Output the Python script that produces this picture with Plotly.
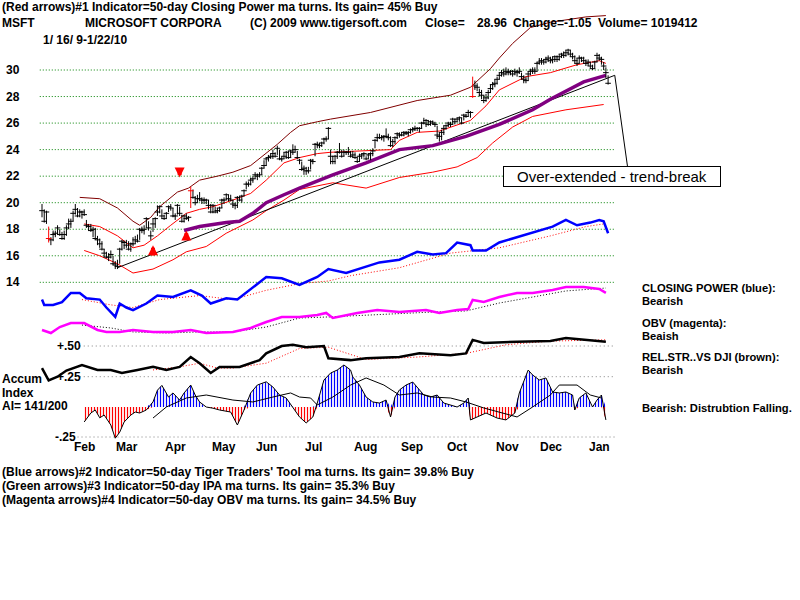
import numpy as np
import pandas as pd
import plotly.graph_objects as go

# ---------------- trading calendar ----------------
holidays = ['2009-01-19', '2009-02-16', '2009-04-10', '2009-05-25', '2009-07-03',
            '2009-09-07', '2009-11-26', '2009-12-25', '2010-01-01', '2010-01-18']
dates = pd.bdate_range('2009-01-16', '2010-01-22')
dates = dates[~dates.isin(pd.to_datetime(holidays))]
day = np.arange(len(dates))

# ---------------- price data (daily) ----------------
closes = [19.4, 18.6, 19.3, 17.3, 17.2, 17.6, 17.7, 18.1, 17.6, 17.3,
          17.6, 18.1, 18.4, 18.6, 19.2, 19.5, 19.0, 19.3, 19.3, 19.1, 18.3, 18.2, 17.9, 18.0, 17.3, 17.2, 16.9, 16.5, 16.2,
          15.9, 15.9, 16.1, 15.4, 15.3, 15.2, 16.5, 17.1, 17.0, 16.8, 16.5, 16.9, 16.9, 17.2, 17.1, 18.0, 17.9, 18.0, 18.8, 18.1, 17.5, 18.4,
          18.8, 19.3, 19.7, 19.0, 18.8, 19.2, 19.7, 19.6, 19.0, 19.0, 19.8, 19.2, 18.6, 19.0, 18.8, 18.9, 20.9, 20.4, 20.0, 20.3, 20.3,
          20.2, 20.2, 20.2, 19.8, 19.3, 19.8, 19.3, 19.4, 19.6, 20.2, 20.2, 20.6, 20.3, 20.2, 19.9, 19.8, 20.4, 20.2, 20.5, 20.9,
          21.4, 21.4, 21.7, 21.8, 22.1, 22.0, 22.1, 22.6, 22.8, 23.3, 23.4, 23.5, 23.7, 23.5, 24.1, 23.3, 23.3, 23.5, 23.8, 23.4, 23.9, 23.8,
          24.0, 23.4, 23.2, 22.5, 22.6, 22.4, 22.4, 23.2, 23.1, 24.4, 24.4, 24.3, 24.5, 24.8, 24.8, 25.6, 23.5, 23.1, 23.5, 23.8, 23.8, 23.5,
          23.8, 23.8, 23.8, 23.5, 23.6, 23.4, 23.1, 23.5, 23.6, 23.7, 23.3, 23.6, 23.7, 23.9, 24.7, 24.9, 24.9, 24.9, 25.0, 25.0, 24.9,
          24.3, 24.6, 24.9, 25.2, 25.1, 25.1, 25.3, 25.2, 25.3, 25.5, 25.5, 25.6, 25.6, 25.6, 26.0, 26.0, 26.2, 25.9, 26.1, 26.0, 25.9,
          25.1, 25.0, 25.3, 25.6, 25.8, 26.0, 25.9, 26.3, 26.1, 26.3, 26.4, 26.0, 26.6, 26.5, 26.8, 26.8, 28.0, 28.8, 28.7, 28.3, 28.1, 27.7,
          27.9, 28.3, 28.6, 28.9, 29.0, 29.3, 29.6, 29.8, 29.7, 29.9, 29.8, 29.9, 29.7, 29.9, 29.8, 29.9, 29.5, 29.3, 29.2, 29.7,
          29.9, 30.0, 29.9, 30.5, 30.6, 30.7, 30.6, 30.8, 30.9, 30.7, 30.8, 31.0, 30.8, 31.0, 31.2, 31.1, 31.3, 31.5, 31.2, 31.0, 30.7, 30.5,
          30.9, 30.9, 30.7, 30.5, 30.6, 30.3, 30.1, 30.6, 31.1, 30.9, 30.8, 30.3, 29.8, 29.0]
highs = [19.9, 19.5, 19.4, 18.2, 17.4, 17.9, 17.9, 18.3, 18.0, 17.8,
         17.9, 18.3, 18.8, 18.8, 19.4, 19.9, 19.6, 19.5, 19.4, 19.5, 18.7, 18.4, 18.4, 18.2, 18.1, 17.5, 17.3, 17.1, 16.5,
         16.3, 16.2, 16.4, 16.0, 15.6, 15.7, 16.6, 17.2, 17.1, 17.2, 17.1, 17.0, 17.4, 17.5, 17.6, 18.1, 18.2, 18.3, 18.9, 18.6, 17.9, 18.8,
         18.9, 19.8, 19.8, 19.5, 19.1, 19.3, 19.8, 19.9, 19.6, 19.2, 19.9, 19.7, 19.1, 19.1, 19.2, 19.0, 21.2, 21.0, 20.5, 20.6, 20.8,
         20.4, 20.4, 20.3, 20.2, 19.9, 19.9, 19.7, 19.6, 19.7, 20.3, 20.4, 20.7, 20.6, 20.6, 20.2, 20.0, 20.5, 20.5, 20.6, 21.0,
         21.6, 21.6, 21.9, 22.0, 22.3, 22.2, 22.3, 22.7, 23.2, 23.4, 23.6, 23.7, 24.0, 23.8, 24.3, 24.0, 23.5, 23.8, 23.9, 23.9, 24.0, 24.4,
         24.3, 23.9, 23.3, 23.1, 22.8, 22.7, 22.7, 23.3, 23.3, 24.5, 24.6, 24.5, 24.6, 24.9, 25.0, 25.7, 24.0, 23.5, 23.6, 23.9, 24.5, 24.0,
         24.0, 23.9, 24.2, 23.9, 23.9, 23.8, 23.4, 23.7, 23.7, 23.8, 23.5, 23.7, 23.8, 24.1, 24.8, 25.2, 25.2, 25.1, 25.1, 25.6, 25.2,
         25.0, 24.8, 25.0, 25.3, 25.3, 25.3, 25.4, 25.4, 25.4, 25.6, 25.7, 25.8, 25.7, 25.7, 26.1, 26.4, 26.3, 26.2, 26.2, 26.2, 26.1,
         25.8, 25.3, 25.5, 25.8, 25.9, 26.1, 26.1, 26.4, 26.3, 26.4, 26.5, 26.4, 26.7, 26.7, 27.0, 26.9, 29.5, 29.2, 29.0, 28.6, 28.5, 28.1,
         28.2, 28.5, 28.9, 29.1, 29.3, 29.5, 29.8, 30.0, 30.1, 30.2, 30.1, 30.0, 30.0, 30.1, 30.0, 30.2, 29.8, 29.6, 29.5, 29.9,
         30.1, 30.2, 30.2, 30.6, 30.9, 30.9, 30.8, 31.0, 31.1, 31.0, 31.0, 31.1, 31.1, 31.2, 31.3, 31.4, 31.5, 31.6, 31.5, 31.3, 31.1, 30.9,
         31.1, 31.0, 31.0, 30.8, 30.8, 30.6, 30.4, 30.7, 31.3, 31.2, 31.0, 30.6, 30.2, 29.6]
lows = [18.9, 18.5, 18.4, 17.0, 16.8, 17.1, 17.4, 17.6, 17.5, 17.2,
        17.2, 17.5, 18.0, 18.1, 18.6, 19.1, 18.9, 18.9, 18.8, 19.0, 18.1, 17.9, 17.8, 17.4, 17.2, 16.8, 16.6, 16.4, 15.9,
        15.8, 15.6, 15.8, 15.3, 15.0, 15.0, 15.4, 16.4, 16.5, 16.6, 16.4, 16.3, 16.7, 16.9, 17.0, 17.2, 17.7, 17.6, 18.1, 17.9, 17.2, 17.8,
        18.1, 19.0, 19.2, 18.8, 18.7, 18.8, 19.3, 19.4, 18.9, 18.7, 19.1, 19.0, 18.5, 18.5, 18.7, 18.6, 19.6, 20.3, 19.8, 20.0, 20.1,
        19.9, 19.9, 19.9, 19.5, 19.2, 19.2, 19.2, 19.2, 19.3, 19.6, 19.9, 20.2, 20.1, 20.1, 19.6, 19.5, 19.6, 20.1, 20.0, 20.5,
        21.0, 21.2, 21.3, 21.5, 21.8, 21.7, 21.9, 22.1, 22.6, 22.8, 23.1, 23.3, 23.3, 23.4, 23.6, 23.2, 23.1, 23.3, 23.3, 23.3, 23.4, 23.6,
        23.8, 23.3, 22.9, 22.4, 22.1, 22.1, 22.2, 22.5, 22.9, 23.5, 24.1, 24.1, 24.2, 24.4, 24.6, 24.8, 22.9, 22.9, 22.9, 23.3, 23.7, 23.4,
        23.5, 23.6, 23.6, 23.4, 23.4, 23.3, 23.0, 23.1, 23.3, 23.4, 23.2, 23.3, 23.2, 23.5, 24.1, 24.6, 24.8, 24.7, 24.6, 24.9, 24.7,
        24.2, 24.2, 24.4, 24.8, 24.9, 25.0, 25.0, 25.1, 25.0, 25.2, 25.3, 25.4, 25.4, 25.3, 25.6, 25.9, 25.7, 25.8, 25.8, 25.9, 25.7,
        24.8, 24.6, 24.7, 25.1, 25.5, 25.7, 25.7, 25.9, 25.9, 26.1, 26.1, 25.9, 26.2, 26.4, 26.5, 26.4, 27.9, 28.5, 28.4, 28.0, 27.8, 27.5,
        27.6, 27.8, 28.3, 28.5, 28.7, 28.9, 29.3, 29.5, 29.5, 29.6, 29.6, 29.6, 29.5, 29.6, 29.5, 29.7, 29.3, 29.0, 29.0, 29.2,
        29.6, 29.7, 29.7, 29.9, 30.4, 30.4, 30.4, 30.5, 30.6, 30.5, 30.5, 30.6, 30.6, 30.7, 30.9, 30.9, 31.0, 31.1, 31.0, 30.8, 30.5, 30.3,
        30.5, 30.6, 30.5, 30.3, 30.3, 30.1, 30.0, 30.1, 30.6, 30.7, 30.4, 30.0, 29.4, 28.9]
red_bar_days = [3, 67, 194]

# bands / averages on price scale (day index, value)
ub_days = [17, 26, 34, 41, 44, 49, 53, 61, 66, 71, 79, 86, 94, 101, 106, 112, 116, 124, 130, 148, 157, 169, 184, 193, 202, 206, 212, 220, 229, 245, 254]
ub_vals = [20.4, 20.3, 19.6, 18.6, 18.3, 18.9, 19.7, 20.8, 21.1, 21.7, 22.0, 22.3, 22.8, 23.7, 24.4, 25.3, 25.8, 26.1, 26.3, 26.8, 27.2, 27.7, 28.1, 28.7, 30.1, 30.9, 32.0, 33.2, 33.6, 34.0, 34.1]
ma_days = [19, 26, 34, 41, 46, 52, 58, 65, 71, 77, 86, 94, 101, 109, 116, 124, 130, 143, 157, 161, 169, 179, 193, 200, 206, 218, 229, 241, 251, 254]
ma_vals = [18.4, 18.2, 17.5, 16.6, 16.8, 17.5, 18.3, 19.2, 19.5, 19.7, 20.2, 20.7, 21.7, 23.0, 23.4, 23.7, 23.8, 23.9, 24.0, 24.7, 25.3, 25.4, 26.2, 27.3, 28.5, 29.5, 29.8, 30.4, 30.7, 30.5]
lb_days = [19, 26, 34, 41, 50, 59, 65, 74, 83, 89, 95, 101, 109, 116, 131, 146, 161, 176, 187, 196, 203, 212, 221, 236, 253]
lb_vals = [16.4, 16.0, 15.4, 14.7, 15.0, 15.7, 16.3, 16.7, 17.7, 18.2, 18.7, 19.4, 20.2, 21.0, 21.5, 21.1, 21.9, 22.3, 22.7, 23.4, 24.5, 25.7, 26.5, 27.0, 27.4]
purple_days = [64, 71, 83, 89, 95, 101, 109, 116, 131, 146, 161, 176, 191, 206, 221, 229, 244, 254]
purple_vals = [17.9, 18.2, 18.5, 18.6, 19.2, 20.0, 20.6, 21.1, 22.1, 23.0, 24.0, 24.3, 25.0, 25.9, 27.0, 27.8, 29.1, 29.6]
trend_days = [34, 258]
trend_vals = [15.1, 29.6]

# closing power (blue) and its MA, drawn in chart units
cp_days = [0, 1, 5, 9, 13, 17, 20, 26, 29, 33, 35, 38, 41, 47, 52, 59, 67, 72, 76, 83, 88, 95, 101, 108, 116, 124, 129, 137, 146, 152, 161, 169, 176, 182, 187, 193, 194, 200, 206, 214, 221, 230, 236, 241, 247, 251, 253, 255]
cp_vals = [12.7, 12.3, 12.3, 12.5, 13.2, 13.2, 12.8, 12.7, 12.1, 11.4, 12.4, 12.1, 11.9, 12.4, 13.0, 12.9, 13.4, 13.0, 12.4, 12.8, 12.7, 13.6, 14.4, 14.3, 13.8, 14.4, 15.0, 14.7, 15.2, 15.5, 15.7, 16.3, 16.1, 16.2, 17.0, 16.8, 16.4, 16.4, 17.0, 17.4, 17.8, 18.2, 18.7, 18.3, 18.5, 18.7, 18.6, 17.7]
cpma_days = [18, 31, 41, 53, 71, 86, 101, 116, 129, 139, 161, 184, 206, 229, 245, 253]
cpma_vals = [12.7, 12.3, 12.1, 12.7, 13.0, 12.7, 13.4, 13.9, 14.1, 14.5, 15.1, 16.2, 16.6, 17.5, 18.2, 18.4]

# OBV (magenta) and its MA
obv_days = [0, 4, 8, 13, 19, 25, 29, 35, 41, 50, 59, 67, 74, 86, 94, 101, 108, 116, 124, 128, 131, 142, 151, 161, 173, 179, 187, 192, 194, 199, 206, 214, 221, 230, 236, 244, 251, 254]
obv_vals = [10.41, 10.18, 10.63, 10.93, 10.93, 10.41, 10.26, 10.26, 10.41, 10.26, 10.26, 10.41, 10.18, 10.26, 10.56, 11.01, 11.39, 11.39, 11.54, 11.69, 11.31, 11.69, 11.91, 11.76, 11.91, 11.69, 11.91, 11.99, 12.67, 12.52, 12.89, 13.2, 13.2, 13.42, 13.65, 13.65, 13.5, 13.2]
obvma_days = [18, 31, 41, 56, 71, 86, 101, 116, 129, 146, 176, 191, 206, 221, 236, 254]
obvma_vals = [10.78, 10.56, 10.26, 10.18, 10.26, 10.26, 10.63, 11.31, 11.39, 11.54, 11.76, 11.84, 12.44, 12.89, 13.35, 13.57]

# relative strength vs DJI and its MA
rs_days = [0, 3, 7, 11, 18, 25, 31, 36, 43, 50, 56, 62, 67, 71, 76, 80, 89, 98, 101, 108, 113, 119, 127, 129, 139, 146, 161, 170, 184, 191, 194, 199, 214, 229, 236, 244, 254]
rs_vals = [0.32, 0.22, 0.25, 0.30, 0.345, 0.305, 0.305, 0.28, 0.305, 0.33, 0.305, 0.33, 0.41, 0.36, 0.28, 0.33, 0.33, 0.385, 0.44, 0.50, 0.51, 0.49, 0.50, 0.40, 0.385, 0.40, 0.41, 0.44, 0.425, 0.44, 0.55, 0.525, 0.535, 0.54, 0.565, 0.55, 0.535]
rsma_days = [50, 62, 71, 79, 86, 101, 116, 129, 146, 169, 191, 209, 229, 254]
rsma_vals = [0.305, 0.33, 0.36, 0.32, 0.32, 0.36, 0.48, 0.49, 0.39, 0.41, 0.44, 0.51, 0.54, 0.55]
rs_levels = [0.50, 0.25]
rs_level_text = ['+.50', '+.25']

# accumulation index and its MA
ai_days = [19, 22, 24, 26, 28, 31, 33, 35, 37, 40, 42, 44, 47, 50, 52, 54, 57, 59, 62, 64, 67, 69, 71, 74, 77, 80, 85, 88, 91, 94, 97, 100, 101, 104, 107, 110, 113, 116, 119, 122, 124, 127, 130, 133, 136, 139, 140, 143, 146, 149, 152, 155, 157, 159, 161, 164, 167, 169, 172, 175, 178, 181, 184, 187, 190, 192, 193, 196, 200, 205, 209, 213, 215, 219, 221, 224, 227, 230, 233, 236, 239, 240, 242, 245, 248, 250, 252, 254]
ai_vals = [-0.125, -0.05, -0.025, -0.09, -0.067, -0.15, -0.26, -0.21, -0.125, -0.067, -0.042, -0.05, -0.025, 0.042, 0.14, 0.18, 0.083, 0.117, 0.058, 0.117, 0.183, 0.10, 0.042, 0.0, -0.01, -0.025, -0.042, -0.15, -0.025, 0.117, 0.183, 0.20, 0.21, 0.167, 0.10, 0.075, 0.0, -0.083, -0.133, -0.083, 0.033, 0.225, 0.283, 0.308, 0.35, 0.308, 0.25, 0.183, 0.083, 0.042, 0.033, 0.058, -0.083, 0.083, 0.142, 0.183, 0.208, 0.167, 0.10, 0.083, 0.10, 0.033, 0.017, 0.0, 0.033, 0.075, -0.108, -0.083, -0.05, -0.092, -0.108, -0.05, 0.117, 0.308, 0.267, 0.225, 0.242, 0.125, 0.117, 0.125, 0.10, -0.025, 0.075, 0.117, 0.0, 0.058, 0.10, -0.108]
aima_days = [50, 56, 65, 74, 86, 95, 104, 112, 116, 121, 124, 131, 139, 146, 154, 161, 169, 176, 184, 191, 199, 206, 214, 221, 229, 233, 241, 247, 252]
aima_vals = [-0.092, 0.0, 0.075, 0.10, 0.058, 0.042, 0.083, 0.117, 0.083, 0.075, 0.017, 0.083, 0.183, 0.242, 0.183, 0.10, 0.117, 0.083, 0.075, 0.042, -0.008, -0.042, -0.083, 0.0, 0.10, 0.183, 0.183, 0.10, 0.075]
ai_levels = [-0.25]
ai_level_text = ['-.25']

# signal arrows (day, tail, head)
arrow_days = [62, 50, 65]
arrow_tail = [22.7, 15.9, 17.1]
arrow_head = [21.9, 16.8, 17.9]

# axis labels
price_ticks = [30, 28, 26, 24, 22, 20, 18, 16, 14]
month_labels = ['Feb', 'Mar', 'Apr', 'May', 'Jun', 'Jul', 'Aug', 'Sep', 'Oct', 'Nov', 'Dec', 'Jan']

# ---------------- geometry (pixel calibration) ----------------
W, H = 800, 600
X0, PXD = 42.0, 2.22            # pixel of day 0, pixels per day
P_REF, P_PX, P_SCALE = 30.0, 70.0, 13.27   # price 30 at y=70, px per $
RS_REF, RS_PX, RS_SCALE = 0.5, 346.0, 122.8
AI_PX, AI_SCALE = 407.0, 120.0
FONT = "Liberation Sans, Arial, sans-serif"
FS = 12
FS_RIGHT = 11.2

x_range = [-X0 / PXD, (W - X0) / PXD]
y_range = [P_REF - (H - P_PX) / P_SCALE, P_REF + P_PX / P_SCALE]
y2_range = [RS_REF - (H - RS_PX) / RS_SCALE, RS_REF + RS_PX / RS_SCALE]
y3_range = [-(H - AI_PX) / AI_SCALE, AI_PX / AI_SCALE]

fig = go.Figure()

# gridlines
for v in price_ticks:
    fig.add_shape(type='line', xref='x', yref='y', x0=-1, x1=258, y0=v, y1=v, layer='below',
                  line=dict(color='#008000', width=1, dash='1px,2px'))
for v in rs_levels:
    fig.add_shape(type='line', xref='x', yref='y2', x0=17, x1=258, y0=v, y1=v, layer='below',
                  line=dict(color='#808080', width=1, dash='1px,3px'))
for v in ai_levels:
    fig.add_shape(type='line', xref='x', yref='y3', x0=16, x1=258, y0=v, y1=v, layer='below',
                  line=dict(color='#808080', width=1, dash='1px,3px'))

def line(x, y, color, width=1, dash=None, yaxis='y'):
    fig.add_trace(go.Scatter(x=x, y=y, mode='lines', yaxis=yaxis, hoverinfo='skip',
                             line=dict(color=color, width=width, dash=dash)))

# price panel
line(ub_days, ub_vals, '#800000', 1)
line(lb_days, lb_vals, '#FF0000', 1)
line(ma_days, ma_vals, '#FF0000', 1)
line(trend_days, trend_vals, '#000000', 1)
line(purple_days, purple_vals, '#800080', 3.5)

c = np.array(closes); h = np.array(highs); l = np.array(lows)
is_red = np.isin(day, red_bar_days)
for mask, col in [(~is_red, 'black'), (is_red, 'red')]:
    fig.add_trace(go.Scatter(
        x=day[mask], y=c[mask], mode='markers', hoverinfo='skip',
        marker=dict(symbol='line-ew', size=4, color=col, line=dict(width=1, color=col)),
        error_y=dict(type='data', symmetric=False, array=np.clip(h[mask] - c[mask], 0, None),
                     arrayminus=np.clip(c[mask] - l[mask], 0, None), thickness=1, width=0, color=col)))

# closing power + OBV
line(cpma_days, cpma_vals, '#FF0000', 1, '1px,2px')
line(cp_days, cp_vals, '#0000FF', 2.5)
line(obvma_days, obvma_vals, '#000000', 1, '1px,2px')
line(obv_days, obv_vals, '#FF00FF', 2.5)

# relative strength
line(rsma_days, rsma_vals, '#FF0000', 1, '1px,2px', 'y2')
line(rs_days, rs_vals, '#000000', 2.5, None, 'y2')

# accumulation index
ai = np.array(ai_vals)
for part, col in [(np.maximum(ai, 0), '#0000FF'), (np.minimum(ai, 0), '#FF0000')]:
    fig.add_trace(go.Scatter(x=ai_days, y=part, mode='lines', yaxis='y3', hoverinfo='skip',
                             fill='tozeroy', line=dict(width=0, color=col),
                             fillpattern=dict(shape='|', fgcolor=col, bgcolor='white',
                                              size=3, solidity=0.4, fillmode='replace')))
line(ai_days, ai_vals, '#000000', 1, None, 'y3')
line(aima_days, aima_vals, '#000000', 1, None, 'y3')

# signal arrows
for d, t, hd in zip(arrow_days, arrow_tail, arrow_head):
    fig.add_annotation(x=d, y=hd, ax=d, ay=t, xref='x', yref='y', axref='x', ayref='y',
                       showarrow=True, arrowhead=2, arrowsize=0.5, arrowwidth=4,
                       arrowcolor='#FF0000', text='')

# callout pointer and box
fig.add_annotation(x=trend_days[-1], y=trend_vals[-1], xref='x', yref='y', ax=13, ay=93,
                   showarrow=True, arrowhead=0, arrowwidth=1, arrowcolor='black', text='')
fig.add_annotation(x=612 / W, y=1 - 177 / H, xref='paper', yref='paper', xanchor='center',
                   yanchor='middle', showarrow=False, text='Over-extended - trend-break',
                   font=dict(family=FONT, size=15, color='black'), bordercolor='black',
                   borderwidth=1, borderpad=1, bgcolor='white', width=214)

def txt(px, py, s, size=FS, anchor='left'):
    fig.add_annotation(x=px / W, y=1 - py / H, xref='paper', yref='paper', text=s,
                       showarrow=False, xanchor=anchor, yanchor='middle',
                       font=dict(family=FONT, size=size, color='black', weight='bold'))

# header
txt(0, 7, '(Red arrows)#1 Indicator=50-day Closing Power ma turns. Its gain= 45% Buy')
txt(0, 23, 'MSFT')
txt(83, 23, 'MICROSOFT CORPORA')
txt(248, 23, '(C) 2009 www.tigersoft.com')
txt(423, 23, 'Close=')
txt(475, 23, '28.96')
txt(511, 23, 'Change=-1.05')
txt(596, 23, 'Volume= 1019412')
txt(41, 40, '1/ 16/ 9-1/22/10')

# price tick labels
for v in price_ticks:
    fig.add_annotation(x=4 / W, y=v, xref='paper', yref='y', text=str(v), showarrow=False,
                       xanchor='left', yanchor='middle',
                       font=dict(family=FONT, size=12, color='black', weight='bold'))
for v, s in zip(rs_levels, rs_level_text):
    fig.add_annotation(x=55 / W, y=v, xref='paper', yref='y2', text=s, showarrow=False,
                       xanchor='left', yanchor='middle',
                       font=dict(family=FONT, size=12, color='black', weight='bold'))
for v, s in zip(ai_levels, ai_level_text):
    fig.add_annotation(x=53 / W, y=v, xref='paper', yref='y3', text=s, showarrow=False,
                       xanchor='left', yanchor='middle',
                       font=dict(family=FONT, size=12, color='black', weight='bold'))

# month labels
month_idx = [i for i in range(1, len(dates)) if dates[i].month != dates[i - 1].month]
for i, s in zip(month_idx, month_labels):
    fig.add_annotation(x=i + 8 / PXD, y=1 - 446.5 / H, xref='x', yref='paper', text=s,
                       showarrow=False, xanchor='left', yanchor='middle',
                       font=dict(family=FONT, size=12, color='black', weight='bold'))

# AI labels
txt(0, 379, 'Accum', 12)
txt(0, 393, 'Index', 12)
txt(0, 406, 'AI= 141/200', 12)

# right labels
txt(640, 288, 'CLOSING POWER (blue):', FS_RIGHT)
txt(640, 301, 'Bearish', FS_RIGHT)
txt(640, 323, 'OBV (magenta):', FS_RIGHT)
txt(640, 336, 'Beaish', FS_RIGHT)
txt(640, 357, 'REL.STR..VS DJI (brown):', FS_RIGHT)
txt(640, 370, 'Bearish', FS_RIGHT)
txt(640, 408, 'Bearish: Distrubtion Falling.', FS_RIGHT)

# footer
txt(0, 472, "(Blue arrows)#2 Indicator=50-day Tiger Traders' Tool ma turns. Its gain= 39.8% Buy")
txt(0, 486, '(Green arrows)#3 Indicator=50-day IPA ma turns. Its gain= 35.3% Buy')
txt(0, 500, '(Magenta arrows)#4 Indicator=50-day OBV ma turns. Its gain= 34.5% Buy')

fig.update_layout(
    width=W, height=H, margin=dict(l=0, r=0, t=0, b=0),
    paper_bgcolor='white', plot_bgcolor='white', showlegend=False,
    xaxis=dict(range=x_range, visible=False, fixedrange=True),
    yaxis=dict(range=y_range, visible=False, fixedrange=True),
    yaxis2=dict(range=y2_range, visible=False, overlaying='y', fixedrange=True),
    yaxis3=dict(range=y3_range, visible=False, overlaying='y', fixedrange=True),
)

fig.write_html('out.html')
